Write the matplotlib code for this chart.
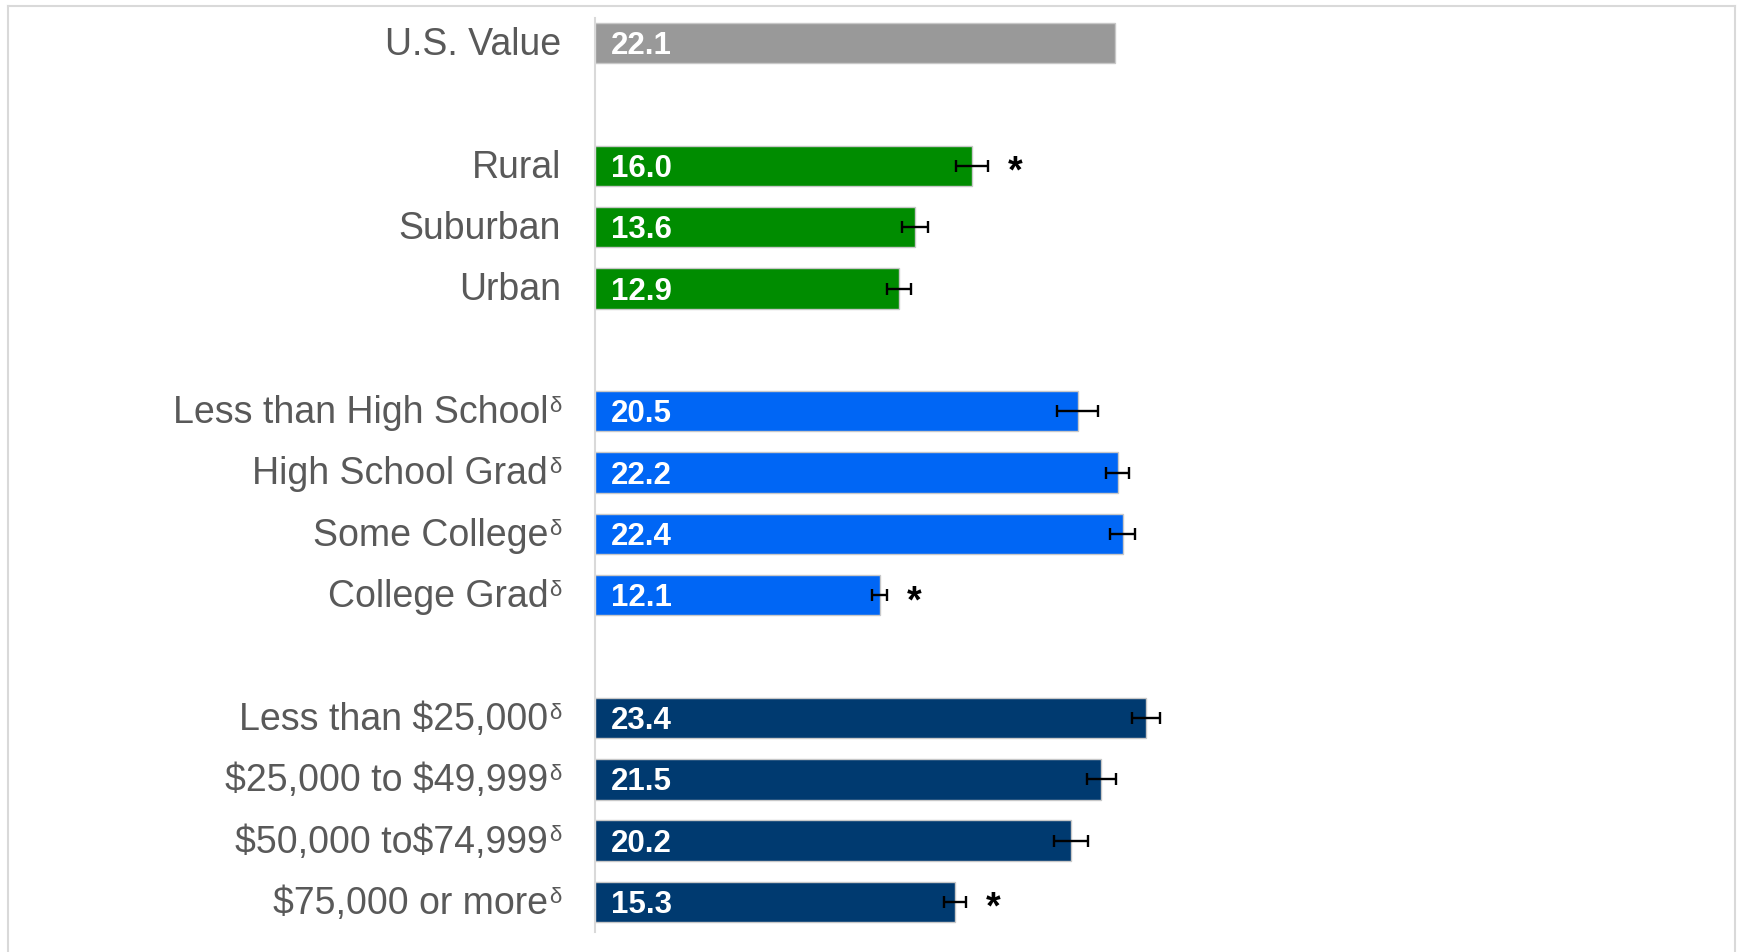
import matplotlib
matplotlib.use("Agg")
import matplotlib.pyplot as plt
from matplotlib.transforms import IdentityTransform
from matplotlib.lines import Line2D

plt.rcParams['font.family'] = ['Liberation Sans', 'DejaVu Sans']

# ---- data ----
labels = ["U.S. Value", "Rural", "Suburban", "Urban",
          "Less than High School", "High School Grad", "Some College", "College Grad",
          "Less than $25,000", "$25,000 to $49,999", "$50,000 to$74,999", "$75,000 or more"]
values = [22.1, 16.0, 13.6, 12.9, 20.5, 22.2, 22.4, 12.1, 23.4, 21.5, 20.2, 15.3]
errors = [0.0, 0.68, 0.56, 0.52, 0.87, 0.49, 0.54, 0.32, 0.59, 0.61, 0.73, 0.46]
significant = [False, True, False, False, False, False, False, True, False, False, False, True]
delta = [False, False, False, False, True, True, True, True, True, True, True, True]
group = ["us", "area", "area", "area", "edu", "edu", "edu", "edu",
         "inc", "inc", "inc", "inc"]
group_colors = {"us": "#999999", "area": "#008C00", "edu": "#0066F5", "inc": "#003A70"}

# positions: one empty slot between groups
positions = []
p = 0
prev = None
for g in group:
    if prev is not None and g != prev:
        p += 1
    positions.append(p)
    p += 1
    prev = g

W, H = 1737, 952
fig = plt.figure(figsize=(W / 100, H / 100), dpi=100)
ax = fig.add_axes([595 / W, 1 - 932 / H, 942 / W, 914 / H])

colors = [group_colors[g] for g in group]
ax.barh(positions, values, height=0.66, color=colors, edgecolor="#C8C8C8",
        linewidth=1.0, zorder=2)
for pos, v, e, g in zip(positions, values, errors, group):
    if g == "us":
        continue
    ax.errorbar(v, pos, xerr=e, fmt="none", ecolor="black", elinewidth=1.7,
                capsize=4, capthick=1.7, zorder=3)

ax.set_xlim(0, 40)
ax.set_ylim(14.49, -0.41)
for s in ["top", "right", "bottom"]:
    ax.spines[s].set_visible(False)
ax.spines["left"].set_color("#D9D9D9")
ax.spines["left"].set_linewidth(1.5)
ax.set_xticks([])
ax.set_yticks([])

fig.canvas.draw()
renderer = fig.canvas.get_renderer()

lab_fs = 27
lab_em = lab_fs * 100 / 72
val_fs = 22.5
val_em = val_fs * 100 / 72
d_fs = 16
d_em = d_fs * 100 / 72
label_right = 561

for pos, lab, d, v, e, sig in zip(positions, labels, delta, values, errors, significant):
    yc = ax.transData.transform((0, pos))[1]
    base = yc - 0.716 * lab_em / 2 + 1.5
    xr = label_right
    if d:
        t = fig.text(xr, base + 0.74 * lab_em - 0.74 * d_em, "δ",
                     fontsize=d_fs, color="#595959", ha="right", va="baseline",
                     transform=IdentityTransform(), parse_math=False)
        bb = t.get_window_extent(renderer)
        xr = bb.x0 - 0.5
    fig.text(xr, base, lab, fontsize=lab_fs, color="#595959", ha="right",
             va="baseline", transform=IdentityTransform(), parse_math=False)
    # value label
    x0 = ax.transData.transform((0, pos))[0]
    fig.text(x0 + 16, yc - 0.716 * val_em / 2, f"{v:.1f}", fontsize=val_fs,
             color="white", fontweight="bold", ha="left", va="baseline",
             transform=IdentityTransform(), parse_math=False)
    if sig:
        xe = ax.transData.transform((v + e, pos))[0]
        fig.text(xe + 27, yc - 7, "*", fontsize=27, fontweight="bold",
                 color="black", ha="center", va="center",
                 transform=IdentityTransform(), parse_math=False)

# outer frame (left, top, right)
fc = "#D9D9D9"
fig.add_artist(Line2D([8, 8], [0, H - 6], color=fc, lw=1.5, transform=IdentityTransform()))
fig.add_artist(Line2D([8, 1735], [H - 6, H - 6], color=fc, lw=1.5, transform=IdentityTransform()))
fig.add_artist(Line2D([1735, 1735], [0, H - 6], color=fc, lw=1.5, transform=IdentityTransform()))

fig.savefig("out.png", dpi=100)
